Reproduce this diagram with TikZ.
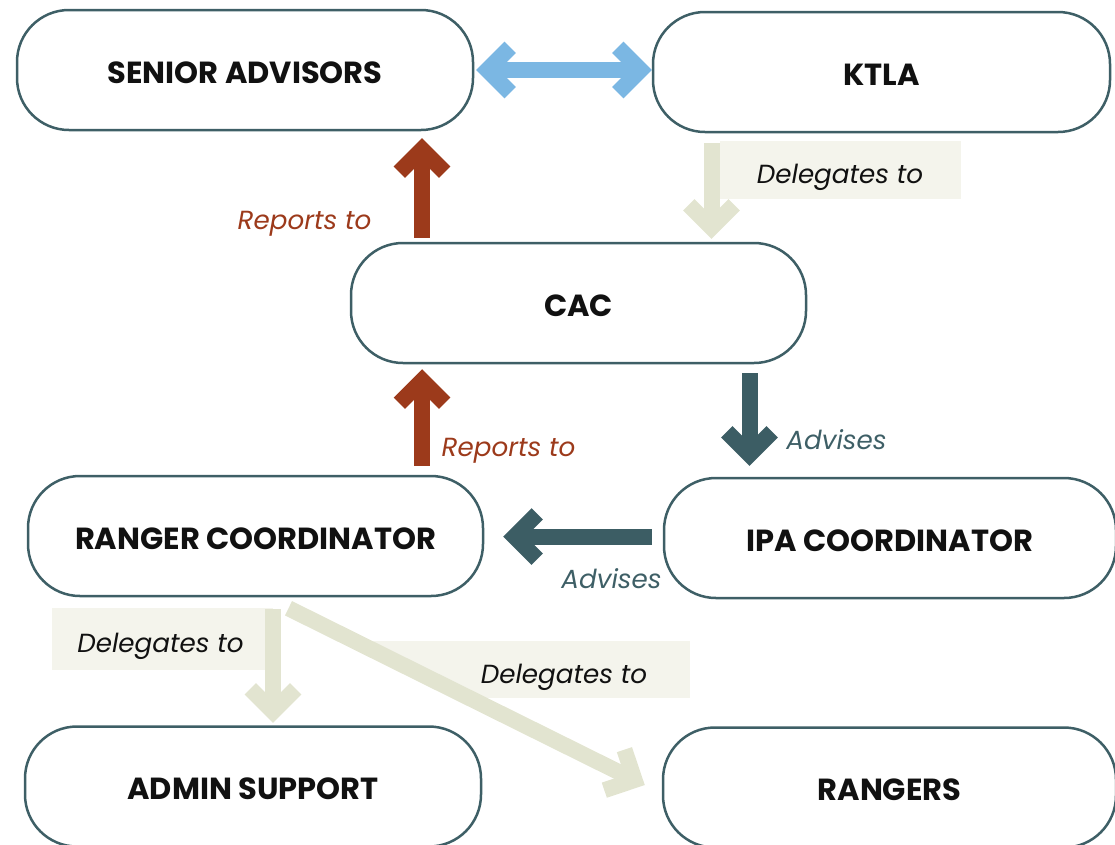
\documentclass[tikz,border=0pt]{standalone}
\usepackage{fontspec}
\setmainfont{Poppins}
\usetikzlibrary{calc}
\definecolor{edge}{HTML}{3E5F66}
\definecolor{rust}{HTML}{9C3A1B}
\definecolor{sky}{HTML}{7BB7E3}
\definecolor{olive}{HTML}{E2E4D0}
\definecolor{tagfill}{HTML}{F4F4EC}
\definecolor{tealarrow}{HTML}{3C5D64}
\definecolor{ink}{HTML}{111111}
\newcommand\chevarrow[3]{%
  \coordinate (cv-#3) at ($(#3)!11.3pt!(#2)$);
  \draw[#1, line width=16pt] (#2) -- (cv-#3);
  \draw[#1, line width=16pt, line join=miter] ($(cv-#3)!32pt!45:(#2)$) -- (cv-#3) -- ($(cv-#3)!32pt!-45:(#2)$);
}
\begin{document}
\begin{tikzpicture}[x=1pt,y=-1pt,
  orgbox/.style={draw=edge, line width=2.5pt, fill=white, rounded corners=52pt,
    minimum height=120pt, inner sep=0pt, text=ink, text height=26.3pt, text depth=0pt,
    font=\bfseries\fontsize{30.5}{34}\selectfont},
  lab/.style={anchor=base, inner sep=0pt, font=\itshape\fontsize{26.2}{30}\selectfont},
  tag/.style={fill=tagfill, draw=none, inner sep=0pt}]
\useasboundingbox (0,0) rectangle (1115,844);
\clip (0,0) rectangle (1115,844);
% nodes
\node[orgbox, minimum width=456pt] (sa) at (245,70) {SENIOR ADVISORS};
\node[orgbox, minimum width=457pt] (ktla) at (881.5,72) {KTLA};
\node[orgbox, minimum width=455pt] (cac) at (578.5,303) {CAC};
\node[orgbox, minimum width=455pt] (rc) at (255.5,536) {RANGER COORDINATOR};
\node[orgbox, minimum width=452pt] (ipa) at (890,538) {IPA COORDINATOR};
\node[orgbox, minimum width=456pt] (admin) at (253,786.5) {ADMIN SUPPORT};
\node[orgbox, minimum width=453pt] (rangers) at (889.5,787.5) {RANGERS};
% label boxes
\node[tag, minimum width=241pt, minimum height=58pt] (tag1) at (840.5,170) {};
\node[tag, minimum width=221pt, minimum height=62pt] (tag2) at (162.5,639) {};
% arrow coordinates
\coordinate (bA) at ($(sa.east)+(2,0)$);
\coordinate (bB) at ($(ktla.west)+(0,-2)$);
\coordinate (r1s) at ($(cac.north)+(-156.5,-4)$);
\coordinate (r1t) at ($(sa.south)+(177,7)$);
\coordinate (o1s) at ($(ktla.south)+(-170,10)$);
\coordinate (o1t) at ($(cac.north)+(133,-3)$);
\coordinate (r2s) at ($(rc.north)+(166.5,-9)$);
\coordinate (r2t) at ($(cac.south)+(-156.5,5)$);
\coordinate (t1s) at ($(cac.south)+(171,9)$);
\coordinate (t1t) at ($(ipa.north)+(-140.5,-11)$);
\coordinate (t2s) at ($(ipa.west)+(-11,-1.5)$);
\coordinate (t2t) at ($(rc.east)+(19,0.5)$);
\coordinate (o2s) at ($(rc.south)+(17.5,12)$);
\coordinate (o2t) at ($(admin.north)+(20,-2.5)$);
\coordinate (o3s) at ($(rc.south)+(33,11)$);
\coordinate (o3t) at ($(rangers.west)+(-17,-2.5)$);
\begin{scope}
  \clip (o3s) -- ($(o3s)!3!(o3t)$) -- (1115,0) -- cycle;
  \node[tag, minimum width=350pt, minimum height=57pt] (tag3) at (515,669.5) {};
\end{scope}
% double arrow
\coordinate (cvA) at ($(bA)!11.3pt!(bB)$);
\coordinate (cvB) at ($(bB)!11.3pt!(bA)$);
\draw[sky, line width=16pt] (cvA) -- (cvB);
\draw[sky, line width=16pt, line join=miter] ($(cvA)!32pt!45:(bB)$) -- (cvA) -- ($(cvA)!32pt!-45:(bB)$);
\draw[sky, line width=16pt, line join=miter] ($(cvB)!32pt!45:(bA)$) -- (cvB) -- ($(cvB)!32pt!-45:(bA)$);
% other arrows
\chevarrow{rust}{r1s}{r1t}
\chevarrow{olive}{o1s}{o1t}
\chevarrow{rust}{r2s}{r2t}
\chevarrow{tealarrow}{t1s}{t1t}
\chevarrow{tealarrow}{t2s}{t2t}
\chevarrow{olive}{o2s}{o2t}
\chevarrow{olive}{o3s}{o3t}
% labels
\node[lab, text=rust] (rep1) at (304.5,229) {Reports to};
\node[lab, text=rust] (rep2) at (508.5,456) {Reports to};
\node[lab, text=edge] (adv1) at (836.5,449) {Advises};
\node[lab, text=edge] (adv2) at (611.5,588) {Advises};
\node[lab, text=ink] (del1) at (840,183) {Delegates to};
\node[lab, text=ink] (del2) at (160.5,652) {Delegates to};
\node[lab, text=ink] (del3) at (564,683) {Delegates to};
\end{tikzpicture}
\end{document}
